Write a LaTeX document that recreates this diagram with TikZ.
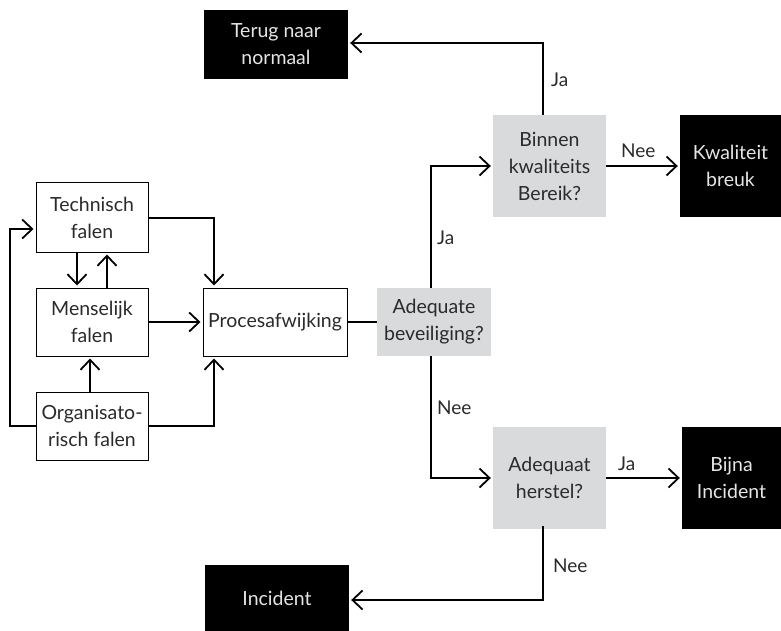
\documentclass[tikz,border=0pt]{standalone}
\usepackage{fontspec}
\setmainfont{Lato}
\usetikzlibrary{arrows.meta}
\definecolor{boxgray}{HTML}{D9DADC}
\definecolor{txt}{HTML}{2A2A2A}
\begin{document}
\begin{tikzpicture}[x=1pt,y=-1pt,
  base/.style={inner sep=0pt, align=center, font=\fontsize{19.5}{27}\selectfont, text=txt},
  whitebox/.style={base, draw=black, line width=1pt, fill=white},
  graybox/.style={base, fill=boxgray},
  blackbox/.style={base, fill=black, text=white!90!black},
  conn/.style={line width=1.8pt, line join=miter},
  arr/.style={conn, -{Straight Barb[length=10pt,width=19pt,line width=1.8pt]}, shorten >=2pt},
  lbl/.style={font=\fontsize{19}{22}\selectfont, text=txt, inner sep=0pt, anchor=west}
]
\useasboundingbox (0,0) rectangle (781,631);

% nodes
\node[blackbox, minimum width=144pt, minimum height=69pt] (terug) at (276,44.5) {Terug naar\\normaal};
\node[whitebox, minimum width=112pt, minimum height=69pt] (tech) at (92,217.5) {Technisch\\falen};
\node[whitebox, minimum width=112pt, minimum height=68pt] (mens) at (92,322) {Menselijk\\falen};
\node[whitebox, minimum width=112pt, minimum height=68pt] (org) at (92,426) {Organisato-\\risch falen};
\node[whitebox, minimum width=144pt, minimum height=68pt] (proc) at (275,322) {Procesafwijking};
\node[graybox, minimum width=114pt, minimum height=68pt] (adbev) at (434,322) {Adequate\\beveiliging?};
\node[graybox, minimum width=113pt, minimum height=102pt] (binnen) at (549.5,166) {Binnen\\kwaliteits\\Bereik?};
\node[blackbox, minimum width=101pt, minimum height=102pt] (kwal) at (730.5,166) {Kwaliteit\\breuk};
\node[graybox, minimum width=113pt, minimum height=102pt] (adher) at (549.5,478) {Adequaat\\herstel?};
\node[blackbox, minimum width=99pt, minimum height=102pt] (bijna) at (731.5,478) {Bijna\\Incident};
\node[blackbox, minimum width=144pt, minimum height=66pt] (inc) at (277,598) {Incident};

% helper coordinates
\coordinate (c1) at (10,426);
\coordinate (c2) at (10,229);
\coordinate (c3) at (214,218);
\coordinate (c4) at (214,426);
\coordinate (c5) at (431,166);
\coordinate (c6) at (543,43);
\coordinate (c7) at (431,478);
\coordinate (c8) at (543,600);

% left cluster
\draw[arr] (org.west) -- (c1) -- (c2) -- (tech.west |- c2);
\draw[arr] (tech.east |- c3) -- (c3) -- (c3 |- proc.north);
\draw[arr] (tech.south -| 77,0) -- (mens.north -| 77,0);
\draw[arr] (mens.north -| 107,0) -- (tech.south -| 107,0);
\draw[arr] (mens.east) -- (proc.west);
\draw[arr] (org.north -| 90,0) -- (mens.south -| 90,0);
\draw[arr] (org.east) -- (c4) -- (c4 |- proc.south);
\draw[conn] (proc.east) -- (adbev.west);

% decisions
\draw[arr] (adbev.north -| c5) -- (c5) -- (binnen.west |- c5);
\node[lbl] (lja1) at (437,238) {Ja};
\draw[arr] (binnen.north -| c6) -- (c6) -- (terug.east |- c6);
\node[lbl] (lja2) at (551,80) {Ja};
\draw[arr] (binnen.east) -- (kwal.west);
\node[lbl] (lnee1) at (621,151) {Nee};
\draw[arr] (adbev.south -| c7) -- (c7) -- (adher.west |- c7);
\node[lbl] (lnee2) at (437,408) {Nee};
\draw[arr] (adher.east) -- (bijna.west);
\node[lbl] (lja3) at (618,464) {Ja};
\draw[arr] ([yshift=3pt]adher.south -| c8) -- (c8) -- (inc.east |- c8);
\node[lbl] (lnee3) at (553,566) {Nee};
\end{tikzpicture}
\end{document}
